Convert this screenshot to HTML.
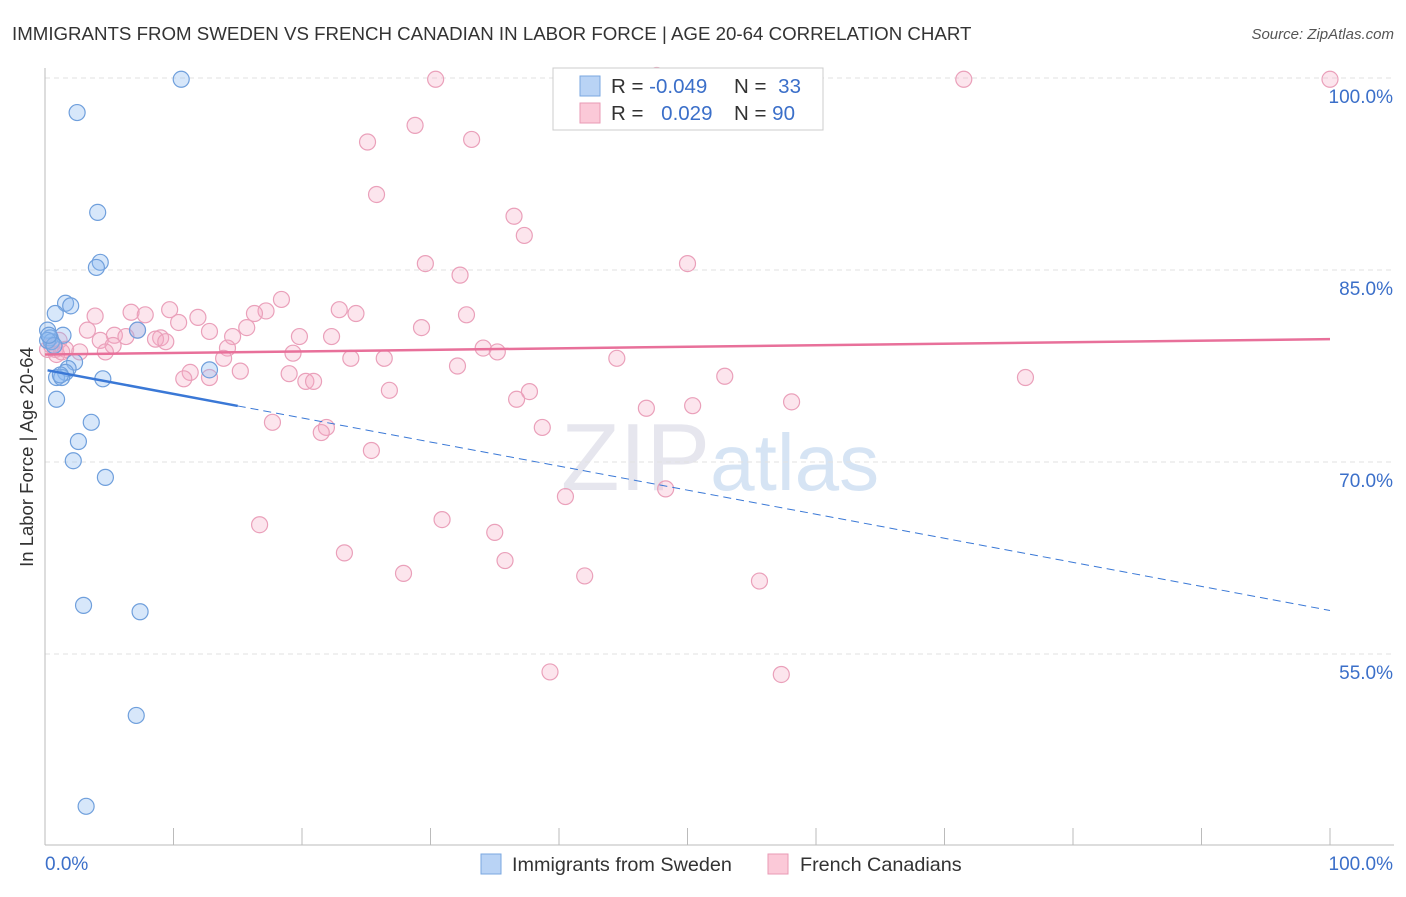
<!DOCTYPE html>
<html><head><meta charset="utf-8"><style>
body{margin:0;background:#fff;font-family:"Liberation Sans",sans-serif;}
svg text{font-family:"Liberation Sans",sans-serif;}
</style></head><body>
<svg id="chart" width="1406" height="892" xmlns="http://www.w3.org/2000/svg">
<text x="12" y="40" font-size="18.7" fill="#333">IMMIGRANTS FROM SWEDEN VS FRENCH CANADIAN IN LABOR FORCE | AGE 20-64 CORRELATION CHART</text>
<text x="1394" y="39" font-size="15" fill="#555" text-anchor="end" font-style="italic">Source: ZipAtlas.com</text>
<text x="720" y="490" font-size="96" fill="#e6e6ee" text-anchor="middle" font-family="Liberation Serif">ZIP<tspan fill="#d6e4f4" font-family="Liberation Sans" font-size="80">atlas</tspan></text>
<g id="grid"></g><g id="axes"></g><g id="pts"></g><g id="trend"></g>
<text transform="translate(33,457) rotate(-90)" font-size="18.5" fill="#333" text-anchor="middle">In Labor Force | Age 20-64</text>
<g>
<rect x="553" y="68" width="270" height="62" fill="#fff" stroke="#ccc"/>
<rect x="580" y="76" width="20" height="20" fill="#b9d3f5" stroke="#7aa7e0"/>
<rect x="580" y="103" width="20" height="20" fill="#fbc9d8" stroke="#e89ab5"/>
<text x="611" y="93" font-size="20.5" fill="#333">R = <tspan fill="#3b6fc9">-0.049</tspan></text>
<text x="734" y="93" font-size="20.5" fill="#333">N = <tspan fill="#3b6fc9" dx="6">33</tspan></text>
<text x="611" y="120" font-size="20.5" fill="#333">R = <tspan fill="#3b6fc9" dx="12">0.029</tspan></text>
<text x="734" y="120" font-size="20.5" fill="#333">N = <tspan fill="#3b6fc9">90</tspan></text>
</g>
<g>
<rect x="481" y="854" width="20" height="20" fill="#b9d3f5" stroke="#7aa7e0"/>
<text x="512" y="871" font-size="19.8" fill="#333">Immigrants from Sweden</text>
<rect x="768" y="854" width="20" height="20" fill="#fbc9d8" stroke="#e89ab5"/>
<text x="800" y="871" font-size="19.8" fill="#333">French Canadians</text>
</g>
</svg>
<script>
const blueX=[10.6,2.5,4.1,4.3,4.0,1.6,2.0,0.8,0.2,1.4,0.4,0.5,7.2,2.3,1.8,1.6,0.9,1.3,4.5,0.9,3.6,2.6,2.2,4.7,12.8,3.0,7.4,7.1,3.2,0.2,0.7,1.2,0.3];
const blueY=[99.9,97.3,89.5,85.6,85.2,82.4,82.2,81.6,80.3,79.9,79.7,79.4,80.3,77.8,77.3,77.0,76.6,76.6,76.5,74.9,73.1,71.6,70.1,68.8,77.2,58.8,58.3,50.2,43.1,79.5,79.1,76.8,79.9];
const pinkX=[30.4,71.5,100,47.6,28.8,25.1,33.2,25.8,36.5,37.3,29.6,32.3,50.0,18.4,17.2,16.3,9.7,6.7,7.8,11.9,10.4,3.9,22.9,24.2,32.8,29.3,3.3,7.2,5.4,6.3,9.0,8.6,9.4,12.8,14.6,15.7,19.8,22.3,4.3,5.3,1.1,0.8,1.6,2.7,4.7,14.2,13.9,19.3,23.8,26.4,34.1,35.2,44.5,32.1,15.2,19.0,11.3,10.8,12.8,20.3,20.9,26.8,37.7,36.7,46.8,50.4,52.9,58.1,76.3,17.7,21.9,21.5,25.4,38.7,40.5,48.3,30.9,35.0,35.8,16.7,23.3,27.9,42.0,55.6,39.3,57.3,0.2,0.5,0.9,1.3];
const pinkY=[99.9,99.9,99.9,100.2,96.3,95.0,95.2,90.9,89.2,87.7,85.5,84.6,85.5,82.7,81.8,81.6,81.9,81.7,81.5,81.3,80.9,81.4,81.9,81.6,81.5,80.5,80.3,80.3,79.9,79.8,79.7,79.6,79.4,80.2,79.8,80.5,79.8,79.8,79.5,79.1,79.5,78.8,78.8,78.6,78.6,78.9,78.1,78.5,78.1,78.1,78.9,78.6,78.1,77.5,77.1,76.9,77.0,76.5,76.6,76.3,76.3,75.6,75.5,74.9,74.2,74.4,76.7,74.7,76.6,73.1,72.7,72.3,70.9,72.7,67.3,67.9,65.5,64.5,62.3,65.1,62.9,61.3,61.1,60.7,53.6,53.4,78.8,79.1,78.4,78.6];
const yTicks=[100,85,70,55];
const yTickLabels=["100.0%","85.0%","70.0%","55.0%"];
const xTicks=[0,10,20,30,40,50,60,70,80,90,100];
const pinkTrend=[78.4,79.6];
const blueTrend=[77.2,58.4];
const NS="http://www.w3.org/2000/svg";
const xs=v=>45+v*12.85, ys=v=>78+(100-v)*12.8;
function mk(tag,attrs,parent){const e=document.createElementNS(NS,tag);for(const k in attrs)e.setAttribute(k,attrs[k]);document.getElementById(parent).appendChild(e);return e;}
yTicks.forEach((t,i)=>{
 const g=mk('line',{x1:45,x2:1394,y1:ys(t),y2:ys(t),stroke:'#e2e2e2','stroke-dasharray':'5,4'},'grid');
 
 
 const l=mk('text',{x:1393,y:ys(t)+25,'font-size':19,fill:'#3b6fc9','text-anchor':'end'},'grid');
 l.textContent=yTickLabels[i];
 
 
});
const ax=mk('line',{x1:45,x2:45,y1:68,y2:845,stroke:'#bbb'},'axes');


const bx=mk('line',{x1:45,x2:1394,y1:845,y2:845,stroke:'#bbb'},'axes');


xTicks.forEach(t=>{const e=mk('line',{x1:xs(t),x2:xs(t),y1:828,y2:845,stroke:'#bbb'},'axes');
 
 });
[["0.0%",45,'start'],["100.0%",1393,'end']].forEach(a=>{const e=mk('text',{x:a[1],y:870,'font-size':19,fill:'#3b6fc9','text-anchor':a[2]},'axes');e.textContent=a[0];
 
 });
pinkX.forEach((x,i)=>{const c=mk('circle',{cx:xs(x),cy:ys(pinkY[i]),r:8,fill:'rgba(246,170,196,0.3)',stroke:'#eaa0ba','stroke-width':1.2},'pts');
 
 });
blueX.forEach((x,i)=>{const c=mk('circle',{cx:xs(x),cy:ys(blueY[i]),r:8,fill:'rgba(140,185,240,0.35)',stroke:'#6f9fdc','stroke-width':1.2},'pts');
 
 });
const pt=mk('line',{x1:xs(0),x2:xs(100),y1:ys(pinkTrend[0]),y2:ys(pinkTrend[1]),stroke:'#e8709a','stroke-width':2.5},'trend');


const bY=x=>blueTrend[0]+(blueTrend[1]-blueTrend[0])*x/100;
const bs=mk('line',{x1:xs(0.2),x2:xs(15),y1:ys(bY(0.2)),y2:ys(bY(15)),stroke:'#3a78d6','stroke-width':2.5},'trend');


const bd=mk('line',{x1:xs(15),x2:xs(100),y1:ys(bY(15)),y2:ys(bY(100)),stroke:'#3a78d6','stroke-width':1,'stroke-dasharray':'8,5'},'trend');


</script>
</body></html>
